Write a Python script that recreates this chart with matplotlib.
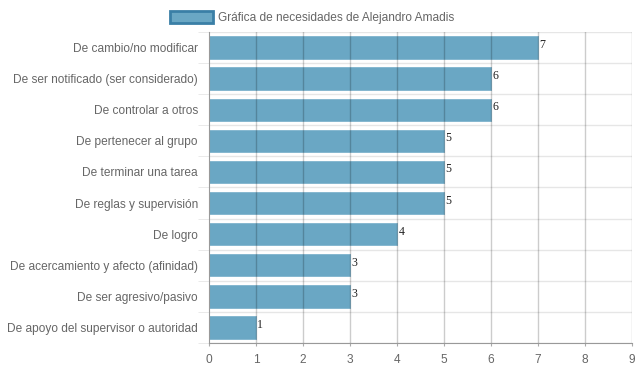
import matplotlib

matplotlib.use("Agg")
import matplotlib.pyplot as plt
import numpy as np

categories = [
    "De cambio/no modificar",
    "De ser notificado (ser considerado)",
    "De controlar a otros",
    "De pertenecer al grupo",
    "De terminar una tarea",
    "De reglas y supervisión",
    "De logro",
    "De acercamiento y afecto (afinidad)",
    "De ser agresivo/pasivo",
    "De apoyo del supervisor o autoridad",
]
values = [7, 6, 6, 5, 5, 5, 4, 3, 3, 1]
x_ticks = list(range(0, 10))
legend_label = "Gráfica de necesidades de Alejandro Amadis"

BAR = "#6aa7c4"
GRAY = "#666666"

plt.rcParams["font.family"] = ["Liberation Sans", "DejaVu Sans"]

fig = plt.figure(figsize=(6.39, 3.72), dpi=100)
ax = fig.add_axes([209 / 639, (372 - 343) / 372, (632 - 209) / 639, (343 - 32) / 372])

y = np.arange(len(categories))
bars = ax.barh(y, values, height=0.72, color=BAR, edgecolor="#7fb4cd",
               linewidth=0.6, zorder=2, label=legend_label)

for yi, v in zip(y, values):
    ax.text(v + 0.03, yi - 0.08, str(v), family=["Liberation Serif", "DejaVu Serif"],
            fontsize=8.6, color="#222222", ha="left", va="center", zorder=4)

ax.set_xlim(0, 9)
ax.set_ylim(len(categories) - 0.5, -0.5)
ax.set_xticks(x_ticks)
ax.set_yticks(y)
ax.set_yticklabels(categories)
ax.set_yticks(np.arange(-0.5, len(categories)), minor=True)

# vertical grid over bars, light horizontal separators
for xv in x_ticks[1:]:
    ax.axvline(xv, color="black", alpha=0.2, lw=1, zorder=3)
for yb in np.arange(-0.5, len(categories)):
    ax.axhline(yb, color="#e6e6e6", lw=1, zorder=1)

ax.tick_params(axis="x", length=2, color="#aaaaaa", labelsize=8.6,
               labelcolor=GRAY, pad=6)
ax.tick_params(axis="y", which="major", length=0, labelsize=8.6,
               labelcolor=GRAY, pad=8)
ax.tick_params(axis="y", which="minor", length=8, color="#e6e6e6")

for side in ("top", "right"):
    ax.spines[side].set_visible(False)
ax.spines["left"].set_color("#999999")
ax.spines["bottom"].set_color("#999999")

leg = fig.legend(handles=[bars], labels=[legend_label], loc="upper center",
                 bbox_to_anchor=(0.489, 1.0), frameon=False, fontsize=8.6,
                 labelcolor=GRAY, handlelength=3.6, handleheight=1.2,
                 handletextpad=0.4)
for h in leg.legend_handles:
    h.set_edgecolor("#3a7fa6")
    h.set_linewidth(2)

fig.savefig("out.png", dpi=100)
